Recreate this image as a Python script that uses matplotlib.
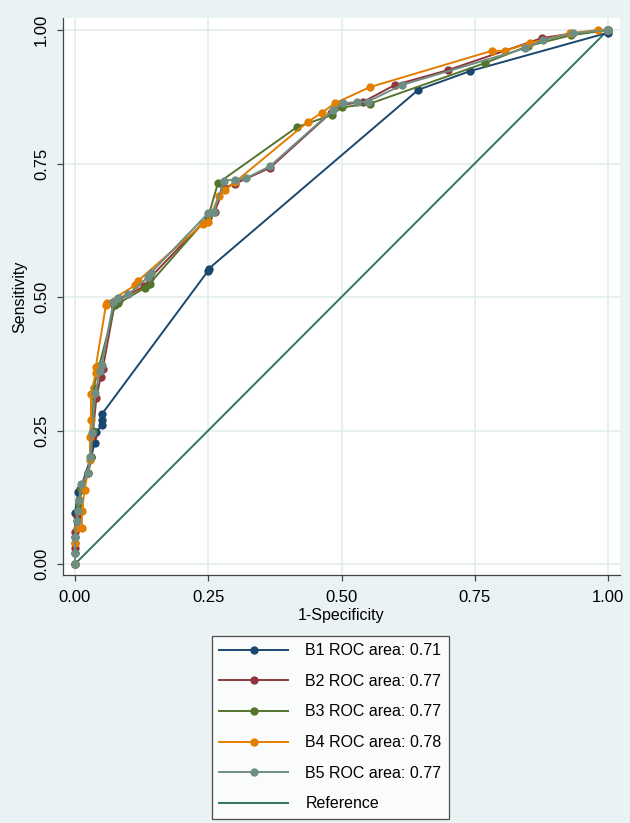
"""ROC comparison of five models (B1-B5) against the chance reference line."""
import matplotlib
matplotlib.use("Agg")
import matplotlib.pyplot as plt

plt.rcParams['font.family'] = ['Liberation Sans', 'DejaVu Sans']

# === Data ===
b1_fpr = [0, 0, 0, 0, 0.006, 0.010, 0.030, 0.037, 0.040, 0.050, 0.050, 0.050, 0.249, 0.251, 0.644, 0.741, 1.0, 1.0]
b1_tpr = [0, 0.02, 0.05, 0.095, 0.135, 0.14, 0.20, 0.227, 0.247, 0.26, 0.27, 0.28, 0.548, 0.553, 0.888, 0.923, 0.995, 1.0]

b2_fpr = [0, 0, 0, 0.004, 0.008, 0.012, 0.025, 0.030, 0.033, 0.040, 0.048, 0.052, 0.074, 0.082, 0.130, 0.140, 0.250, 0.262, 0.280, 0.300, 0.366, 0.480, 0.500, 0.540, 0.600, 0.700, 0.876, 0.930, 1.0]
b2_tpr = [0, 0.03, 0.06, 0.09, 0.12, 0.14, 0.17, 0.20, 0.24, 0.31, 0.35, 0.365, 0.485, 0.495, 0.52, 0.535, 0.65, 0.66, 0.705, 0.712, 0.742, 0.845, 0.86, 0.865, 0.897, 0.925, 0.985, 0.993, 1.0]

b3_fpr = [0, 0, 0.003, 0.008, 0.012, 0.025, 0.030, 0.033, 0.035, 0.045, 0.075, 0.081, 0.131, 0.140, 0.250, 0.268, 0.416, 0.482, 0.500, 0.553, 0.769, 0.850, 0.930, 1.0]
b3_tpr = [0, 0.04, 0.08, 0.11, 0.14, 0.17, 0.20, 0.25, 0.33, 0.37, 0.485, 0.488, 0.517, 0.525, 0.65, 0.713, 0.818, 0.841, 0.855, 0.862, 0.938, 0.97, 0.99, 1.0]

b4_fpr = [0, 0, 0.003, 0.013, 0.013, 0.018, 0.028, 0.028, 0.030, 0.030, 0.039, 0.039, 0.058, 0.060, 0.113, 0.118, 0.240, 0.250, 0.270, 0.281, 0.300, 0.437, 0.463, 0.488, 0.553, 0.782, 0.807, 0.854, 0.929, 0.981, 1.0]
b4_tpr = [0, 0.04, 0.067, 0.067, 0.10, 0.139, 0.195, 0.238, 0.27, 0.318, 0.358, 0.369, 0.485, 0.489, 0.522, 0.53, 0.637, 0.64, 0.69, 0.70, 0.715, 0.828, 0.845, 0.863, 0.893, 0.961, 0.961, 0.976, 0.994, 1.0, 1.0]

b5_fpr = [0, 0, 0, 0.003, 0.005, 0.008, 0.012, 0.025, 0.028, 0.032, 0.038, 0.047, 0.050, 0.072, 0.081, 0.100, 0.137, 0.142, 0.250, 0.260, 0.280, 0.300, 0.320, 0.366, 0.484, 0.503, 0.530, 0.550, 0.613, 0.845, 0.878, 0.935, 0.998, 1.0]
b5_tpr = [0, 0.02, 0.05, 0.08, 0.10, 0.12, 0.15, 0.17, 0.20, 0.245, 0.32, 0.362, 0.372, 0.49, 0.498, 0.505, 0.537, 0.545, 0.657, 0.66, 0.718, 0.72, 0.722, 0.745, 0.85, 0.863, 0.865, 0.866, 0.897, 0.966, 0.981, 0.994, 1.0, 1.0]

labels = ["B1 ROC area: 0.71", "B2 ROC area: 0.77", "B3 ROC area: 0.77",
          "B4 ROC area: 0.78", "B5 ROC area: 0.77"]
colors = ["#1A476F", "#90353B", "#55752F", "#E37E00", "#6E8E84"]
ref_color = "#2F7561"
ticks = [0, 0.25, 0.5, 0.75, 1.0]
tick_labels = ["0.00", "0.25", "0.50", "0.75", "1.00"]

BG = "#EAF2F3"

fig = plt.figure(figsize=(6.3, 8.23), dpi=100, facecolor=BG)
ax = fig.add_axes([63/630, 1 - 575/823, 557/630, 557/823])
ax.set_facecolor("white")

curves = [(b1_fpr, b1_tpr), (b2_fpr, b2_tpr), (b3_fpr, b3_tpr), (b4_fpr, b4_tpr), (b5_fpr, b5_tpr)]
for (fx, ty), c, lab in zip(curves, colors, labels):
    ax.plot(fx, ty, color=c, linewidth=1.4, marker='o', markersize=6,
            markeredgewidth=0, label=lab, zorder=3)
ax.plot([0, 1], [0, 1], color=ref_color, linewidth=1.4, label="Reference", zorder=2)

ax.set_xlim(-0.0225, 1.0225)
ax.set_ylim(-0.0206, 1.0225)
ax.set_xticks(ticks)
ax.set_xticklabels(tick_labels)
ax.set_yticks(ticks)
ax.set_yticklabels(tick_labels, rotation=90, va='center')
ax.tick_params(axis='both', labelsize=12, length=4, width=0.9, color='#444444', direction='out')
ax.tick_params(axis='x', pad=7)
ax.tick_params(axis='y', pad=6)
ax.grid(True, color="#E3ECEE", linewidth=1.2, zorder=0)
ax.set_axisbelow(True)

for s in ['top', 'right']:
    ax.spines[s].set_visible(False)
for s in ['left', 'bottom']:
    ax.spines[s].set_color('#444444')
    ax.spines[s].set_linewidth(0.9)

ax.set_xlabel("1-Specificity", fontsize=11.5)
ax.set_ylabel("Sensitivity", fontsize=11.5)
ax.xaxis.set_label_coords(0.5, -0.059)
ax.yaxis.set_label_coords(-0.064, 0.5)

leg = fig.legend(loc='upper left', bbox_to_anchor=(212/630, 1 - 636/823),
                 fontsize=11.5, frameon=True, fancybox=False, ncol=1,
                 handlelength=4.3, handletextpad=1.1, labelspacing=0.98,
                 borderpad=0.45, borderaxespad=0)
leg.get_frame().set_edgecolor('#222222')
leg.get_frame().set_linewidth(0.9)
leg.get_frame().set_facecolor('white')
for h in leg.legend_handles:
    h.set_markevery([1]) if hasattr(h, 'set_markevery') else None

plt.savefig("out.png", dpi=100, facecolor=BG)
